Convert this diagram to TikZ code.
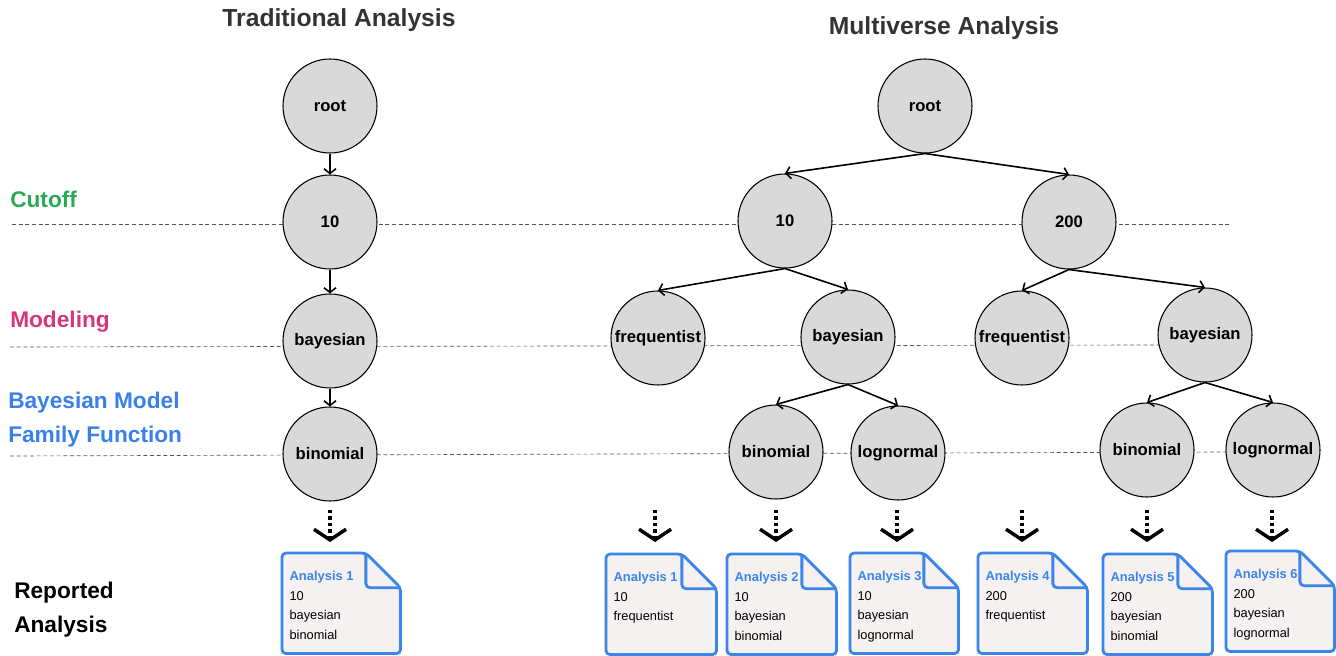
\documentclass[tikz,border=0pt]{standalone}
\usepackage{fontspec}
\setmainfont{Liberation Sans}
\usetikzlibrary{arrows.meta}
\definecolor{nodefill}{HTML}{D9D9D9}
\definecolor{titlegray}{HTML}{333333}
\definecolor{cutgreen}{HTML}{2BAA55}
\definecolor{modpink}{HTML}{D6367F}
\definecolor{famblue}{HTML}{3A80EC}
\definecolor{docblue}{HTML}{3A84EA}
\definecolor{docfill}{HTML}{F4F1F0}
\definecolor{guidegray}{HTML}{555555}
\tikzset{
  tnode/.style={circle, draw=black, line width=0.8pt, fill=nodefill, minimum size=70.5pt, inner sep=0pt,
    font=\fontsize{12.5}{14}\selectfont\bfseries},
  edge/.style={line width=1.2pt, -{Straight Barb[length=3.5pt,width=9pt]}},
  guide/.style={guidegray, line width=0.5pt, dash pattern=on 3pt off 2pt},
  title/.style={font=\fontsize{18.5}{22}\selectfont\bfseries, text=titlegray},
  sidelabel/.style={font=\fontsize{17}{25.5}\selectfont\bfseries, anchor=west, align=left, inner sep=0pt},
  docbody/.style={rectangle, inner sep=0pt},
  docline/.style={draw=docblue, line width=2.1pt, rounded corners=3pt, line join=round},
  doctext/.style={anchor=north west, align=left, inner sep=0pt, font=\fontsize{9.6}{14.6}\selectfont},
  resarrow/.style={line width=2.6pt, dash pattern=on 2.6pt off 2.2pt, -{Straight Barb[length=8pt,width=24pt]}}
}
\newcommand{\analysisdoc}[6]{%
  \node[docbody, minimum width=#4*0.75pt, minimum height=75pt, anchor=north west] (#1) at (#2,#3) {};
  \draw[docline, fill=docfill] (#1.north west) -- ([xshift=-26pt]#1.north east) -- ([yshift=-26pt]#1.north east) -- (#1.south east) -- (#1.south west) -- cycle;
  \draw[docline] ([xshift=-26pt]#1.north east) -- ([xshift=-26pt,yshift=-26pt]#1.north east) -- ([yshift=-26pt]#1.north east);
  \node[doctext] (#1t) at ([xshift=5.5pt,yshift=-13.5pt]#1.north west) {{\fontsize{9.7}{14.6}\selectfont\bfseries\color{docblue}#5}\\#6};
}
\begin{document}
\begin{tikzpicture}[x=0.75pt,y=-0.75pt]
\useasboundingbox (0,0) rectangle (1336,656);
% guide lines
\coordinate (g1l) at (12,224); \coordinate (g1r) at (1232,224);
\coordinate (g2l) at (10,347); \coordinate (g2r) at (1160,345);
\coordinate (g3l) at (10,456); \coordinate (g3r) at (1230,452);
\draw[guide] (g1l) -- (g1r);
\draw[guide] (g2l) -- (g2r);
\draw[guide] (g3l) -- (g3r);

% titles
\node[title] (ttrad) at (339,20) {Traditional Analysis};
\node[title] (tmulti) at (944,28) {Multiverse Analysis};

% side labels
\node[sidelabel, text=cutgreen] (lcut) at (10,199) {Cutoff};
\node[sidelabel, text=modpink] (lmod) at (10,322) {Modeling};
\node[sidelabel, text=famblue] (lfam) at (8,420) {Bayesian Model\\Family Function};
\node[sidelabel, text=black] (lrep) at (14,610) {Reported\\Analysis};

% traditional tree
\node[tnode] (troot) at (330,106) {root};
\node[tnode] (tten) at (330,222) {10};
\node[tnode] (tbay) at (330,341) {bayesian};
\node[tnode] (tbin) at (330,454) {binomial};
\draw[edge] (troot.south) -- (tten.north);
\draw[edge] (tten.south) -- (tbay.north);
\draw[edge] (tbay.south) -- (tbin.north);

% multiverse tree
\node[tnode] (mroot) at (925,106) {root};
\node[tnode] (mten) at (785,221) {10};
\node[tnode] (mtwo) at (1069,222) {200};
\node[tnode] (mfa) at (658,338) {frequentist};
\node[tnode] (mba) at (848,337) {bayesian};
\node[tnode] (mfb) at (1022,338) {frequentist};
\node[tnode] (mbb) at (1205,335) {bayesian};
\node[tnode] (mbina) at (776,452) {binomial};
\node[tnode] (mloga) at (898,453) {lognormal};
\node[tnode] (mbinb) at (1147,450) {binomial};
\node[tnode] (mlogb) at (1273,450) {lognormal};
\draw[edge] (mroot.south) -- (mten.north);
\draw[edge] (mroot.south) -- (mtwo.north);
\draw[edge] (mten.south) -- (mfa.north);
\draw[edge] (mten.south) -- (mba.north);
\draw[edge] (mtwo.south) -- (mfb.north);
\draw[edge] (mtwo.south) -- (mbb.north);
\draw[edge] (mba.south) -- (mbina.north);
\draw[edge] (mba.south) -- (mloga.north);
\draw[edge] (mbb.south) -- (mbinb.north);
\draw[edge] (mbb.south) -- (mlogb.north);

% reported analyses
\analysisdoc{dt}{282}{553}{118}{Analysis 1}{10\\bayesian\\binomial}
\analysisdoc{da}{606}{554}{110}{Analysis 1}{10\\frequentist}
\analysisdoc{db}{727}{554}{109}{Analysis 2}{10\\bayesian\\binomial}
\analysisdoc{dc}{850}{553}{108}{Analysis 3}{10\\bayesian\\lognormal}
\analysisdoc{dd}{978}{553}{109}{Analysis 4}{200\\frequentist}
\analysisdoc{de}{1103}{554}{109}{Analysis 5}{200\\bayesian\\binomial}
\analysisdoc{df}{1226}{551}{108}{Analysis 6}{200\\bayesian\\lognormal}

% result arrows
\foreach \n/\x in {t/330, a/655, b/776, c/897, d/1022, e/1147, f/1272}{
  \coordinate (rs\n) at (\x,510);
  \coordinate (re\n) at (\x,542);
}
\draw[resarrow] (rst) -- (ret);
\draw[resarrow] (rsa) -- (rea);
\draw[resarrow] (rsb) -- (reb);
\draw[resarrow] (rsc) -- (rec);
\draw[resarrow] (rsd) -- (red);
\draw[resarrow] (rse) -- (ree);
\draw[resarrow] (rsf) -- (ref);
\end{tikzpicture}
\end{document}
